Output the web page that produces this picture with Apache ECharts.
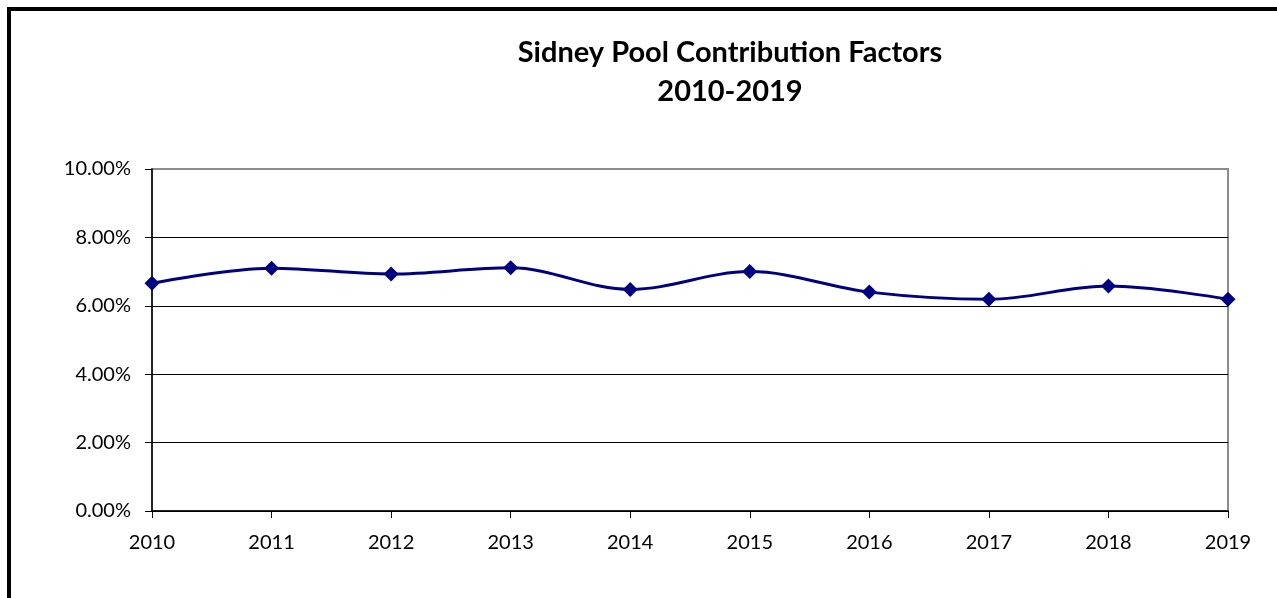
<!DOCTYPE html>
<html>
<head>
<meta charset="utf-8">
<script src="https://cdn.jsdelivr.net/npm/echarts@6/dist/echarts.min.js"></script>
<style>
  html, body { margin: 0; padding: 0; background: #fff; }
  #frame {
    position: absolute; left: 7px; top: 7px; width: 1290px; height: 610px;
    border-left: 4px solid #000; border-top: 4px solid #000;
  }
  #main { position: absolute; left: 0; top: 0; width: 1277px; height: 598px; }
</style>
</head>
<body>
<div id="frame"></div>
<div id="main"></div>
<script>
const years = ['2010', '2011', '2012', '2013', '2014', '2015', '2016', '2017', '2018', '2019']
const factors = [6.66, 7.1, 6.93, 7.11, 6.48, 7.0, 6.4, 6.19, 6.58, 6.19]
const titleLines = ['Sidney Pool Contribution Factors', '2010-2019']

const chartDom = document.getElementById('main')
const myChart = echarts.init(chartDom)

const font = 'Lato, "Open Sans", sans-serif'

let option = {
  animation: false,
  title: {
    text: titleLines.join('\n'),
    left: 725,
    textAlign: 'center',
    top: 28,
    textStyle: {
      fontFamily: font,
      fontWeight: 'bold',
      fontSize: 29,
      lineHeight: 39,
      color: '#000',
    },
  },
  grid: {
    left: 152,
    right: 49,
    top: 169,
    bottom: 87,
    show: true,
    borderColor: '#8c8c8c',
    borderWidth: 2,
    backgroundColor: 'transparent',
  },
  xAxis: {
    type: 'category',
    data: years,
    boundaryGap: false,
    axisLine: { lineStyle: { color: '#000', width: 1.5 } },
    axisTick: { show: true, length: 7, lineStyle: { color: '#000' } },
    axisLabel: {
      margin: 22,
      fontFamily: font,
      fontSize: 20,
      color: '#000',
    },
    splitLine: { show: false },
  },
  yAxis: {
    type: 'value',
    min: 0,
    max: 10,
    interval: 2,
    axisLine: { show: true, lineStyle: { color: '#000', width: 1.5 } },
    axisTick: { show: true, length: 7, lineStyle: { color: '#000' } },
    axisLabel: {
      margin: 21,
      fontFamily: font,
      fontSize: 20,
      color: '#000',
      formatter: function (v) {
        return v.toFixed(2) + '%'
      },
    },
    splitLine: {
      show: true,
      lineStyle: {
        color: ['#000', '#000', '#000', '#000', '#000', '#8c8c8c'],
        width: 1,
      },
    },
  },
  series: [
    {
      name: 'factor',
      type: 'line',
      data: factors,
      smooth: 0.35,
      symbol: 'diamond',
      symbolSize: 15,
      itemStyle: { color: '#000080' },
      lineStyle: { color: '#000080', width: 3 },
    },
  ],
}
myChart.setOption(option)
</script>
</body>
</html>
